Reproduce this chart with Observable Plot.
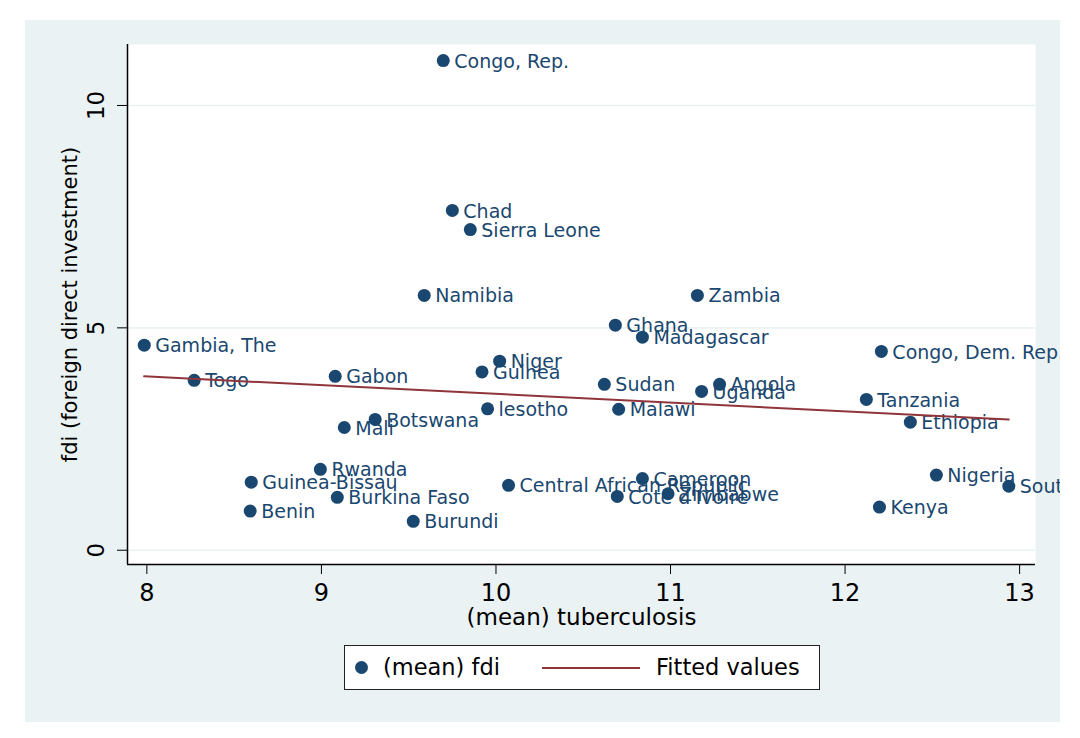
<!DOCTYPE html>
<html>
<head>
<meta charset="utf-8">
<script src="https://cdn.jsdelivr.net/npm/d3@7"></script>
<script src="https://cdn.jsdelivr.net/npm/@observablehq/plot@0.6"></script>
<style>
  html, body { margin: 0; padding: 0; background: #ffffff; }
  body { width: 1080px; height: 738px; position: relative; overflow: hidden; font-family: "DejaVu Sans", sans-serif; }
  #panel { position: absolute; left: 25px; top: 20px; width: 1035px; height: 702px; background: #eaf2f3; overflow: hidden; }
  #chart { position: absolute; left: 0; top: 0; }
  #legend { position: absolute; left: 319px; top: 625px; width: 474px; height: 43px; background: #ffffff; border: 1px solid #222; }
  #legend .dot { position: absolute; left: 10px; top: 15px; width: 13px; height: 13px; border-radius: 50%; background: #1a476f; }
  #legend .txt { position: absolute; top: 7px; font-size: 22.5px; color: #000; white-space: nowrap; line-height: 28px; }
  #legend .ln { position: absolute; left: 197px; top: 21px; width: 98px; height: 2px; background: #90353b; }
</style>
</head>
<body>
<div id="panel">
  <div id="chart"></div>
  <div id="legend">
    <div class="dot"></div>
    <div class="txt" style="left:38px">(mean) fdi</div>
    <div class="ln"></div>
    <div class="txt" style="left:311px">Fitted values</div>
  </div>
</div>
<script>
const countries = ["Congo, Rep.", "Chad", "Sierra Leone", "Namibia", "Zambia", "Ghana", "Madagascar",
  "Congo, Dem. Rep.", "Gambia, The", "Niger", "Guinea", "Gabon", "Togo", "Sudan", "Angola", "Uganda",
  "Tanzania", "Malawi", "lesotho", "Botswana", "Ethiopia", "Mali", "Rwanda", "Nigeria", "Guinea-Bissau",
  "Cameroon", "South Africa", "Central African Republic", "Zimbabwe", "Cote d'Ivoire", "Burkina Faso",
  "Kenya", "Benin", "Burundi"];
const tuberculosis = [9.698, 9.750, 9.853, 9.589, 11.154, 10.684, 10.839,
  12.208, 7.985, 10.021, 9.920, 9.079, 8.271, 10.621, 11.281, 11.178,
  12.122, 10.703, 9.952, 9.308, 12.374, 9.131, 8.994, 12.523, 8.598,
  10.839, 12.938, 10.072, 10.986, 10.695, 9.091,
  12.197, 8.592, 9.526];
const fdi = [11.01, 7.64, 7.21, 5.73, 5.73, 5.06, 4.79,
  4.47, 4.61, 4.25, 4.01, 3.91, 3.82, 3.73, 3.73, 3.57,
  3.39, 3.17, 3.18, 2.94, 2.88, 2.76, 1.82, 1.69, 1.53,
  1.61, 1.44, 1.46, 1.27, 1.21, 1.19,
  0.97, 0.88, 0.65];
const fitX = [7.984, 12.938];
const fitY = [3.91, 2.94];
const xTicks = [8, 9, 10, 11, 12, 13];
const yTicks = [0, 5, 10];
const xDomain = [7.889, 13.091];
const yDomain = [-0.321, 11.371];

const points = countries.map((c, i) => ({country: c, tb: tuberculosis[i], fdi: fdi[i]}));
const fit = fitX.map((x, i) => ({x, y: fitY[i]}));

const navy = "#1a476f";
const maroon = "#90353b";

const chart = Plot.plot({
  width: 1035,
  height: 620,
  marginLeft: 102,
  marginRight: 25,
  marginTop: 24,
  marginBottom: 76,
  x: {domain: xDomain},
  y: {domain: yDomain},
  style: {background: "transparent", fontFamily: "DejaVu Sans", overflow: "hidden"},
  marks: [
    Plot.frame({fill: "white", stroke: "none"}),
    Plot.ruleY(yTicks, {y: d => d, stroke: "#eaf2f3", strokeWidth: 1.6}),
    Plot.dot(points, {x: "tb", y: "fdi", r: 6.5, fill: navy, stroke: "none"}),
    Plot.text(points, {x: "tb", y: "fdi", text: "country", dx: 11, dy: 1, textAnchor: "start",
      lineAnchor: "middle", fill: navy, fontSize: 19}),
    Plot.line(fit, {x: "x", y: "y", stroke: maroon, strokeWidth: 2}),
    Plot.ruleX([xDomain[0]], {x: d => d, stroke: "#000", strokeWidth: 1.5}),
    Plot.ruleY([yDomain[0]], {y: d => d, stroke: "#000", strokeWidth: 1.5}),
    Plot.axisX({ticks: xTicks, tickSize: 10, tickPadding: 9, fontSize: 24, label: null,
      tickFormat: d => String(d), color: "#000"}),
    Plot.axisY({ticks: yTicks, tickSize: 10, label: null, tickFormat: () => "", color: "#000"}),
    Plot.text(yTicks, {y: d => d, text: d => String(d), frameAnchor: "left", rotate: -90, dx: -31,
      fontSize: 23, textAnchor: "middle", lineAnchor: "middle", fill: "#000"}),
    Plot.text(["(mean) tuberculosis"], {frameAnchor: "bottom", dy: 53, fontSize: 23,
      textAnchor: "middle", lineAnchor: "middle", fill: "#000"}),
    Plot.text(["fdi (foreign direct investment)"], {frameAnchor: "left", dx: -57, rotate: -90,
      fontSize: 21, textAnchor: "middle", lineAnchor: "middle", fill: "#000"})
  ]
});
document.getElementById("chart").appendChild(chart);
</script>
</body>
</html>
